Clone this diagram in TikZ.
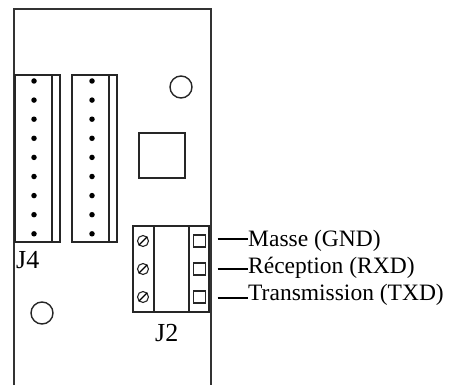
\documentclass[tikz,border=0pt]{standalone}
\usepackage{fontspec}
\setmainfont{Liberation Serif}
\begin{document}
\begin{tikzpicture}[x=1pt,y=-1pt,
  board/.style={draw=black!80, line width=2pt},
  part/.style={draw=black!85, line width=1.6pt},
  pin/.style={draw=black!85, line width=1.1pt, minimum size=12pt, inner sep=0pt, rectangle},
  screw/.style={draw=black!85, line width=1.1pt, circle, minimum size=11pt, inner sep=0pt},
  dotp/.style={fill=black, circle, minimum size=5.5pt, inner sep=0pt},
  lbl/.style={font=\fontsize{23.5}{26}\selectfont, inner sep=0pt},
  jlbl/.style={font=\fontsize{26}{28}\selectfont, inner sep=0pt},
  lead/.style={draw=black, line width=1.8pt}]
\useasboundingbox (0,0) rectangle (449,385);
\fill[white] (0,0) rectangle (449,385);
% board outline
\draw[board] (14,385) -- (14,9) -- (211,9) -- (211,385);
% J4 connectors
\draw[part] (15,75) rectangle (60,242);
\draw[part] (52,75) -- (52,242);
\draw[part] (72,75) rectangle (117,242);
\draw[part] (109,75) -- (109,242);
\foreach \i in {0,...,8}{
  \node[dotp] (da\i) at (34,81+19.1*\i) {};
  \node[dotp] (db\i) at (92,81+19.1*\i) {};
}
\node[jlbl, anchor=base west] (j4) at (16,268.5) {J4};
% holes and chip
\node[draw=black!85, line width=1.4pt, circle, minimum size=22pt, inner sep=0pt] (h1) at (181,87) {};
\node[draw=black!85, line width=1.4pt, circle, minimum size=22pt, inner sep=0pt] (h2) at (42,313) {};
\node[draw=black!85, line width=1.5pt, rectangle, minimum width=46pt, minimum height=45pt, inner sep=0pt] (chip) at (162,155.5) {};
% J2 terminal block
\draw[part] (133,226) rectangle (209,312);
\draw[part] (154,226) -- (154,312);
\draw[part] (189,226) -- (189,312);
\foreach \n/\y in {1/241,2/269,3/297}{
  \node[screw] (s\n) at (143,\y) {};
  \draw[line width=1.1pt] (s\n.south west) -- (s\n.north east);
  \node[pin] (p\n) at (199.5,\y) {};
}
\node[jlbl, anchor=base west] (j2) at (155,341) {J2};
% labels
\node[lbl, anchor=base west] (gnd) at (248,246.5) {Masse (GND)};
\node[lbl, anchor=base west] (rxd) at (248,273) {Réception (RXD)};
\node[lbl, anchor=base west] (txd) at (248,300) {Transmission (TXD)};
\draw[lead, shorten <=11.5pt] ([yshift=2pt]p1.east) -- ([yshift=2pt]p1.east -| gnd.west);
\draw[lead, shorten <=11.5pt] (p2.east) -- (p2.east -| rxd.west);
\draw[lead, shorten <=11.5pt] ([yshift=-1pt]p3.east) -- ([yshift=-1pt]p3.east -| txd.west);
\end{tikzpicture}
\end{document}
